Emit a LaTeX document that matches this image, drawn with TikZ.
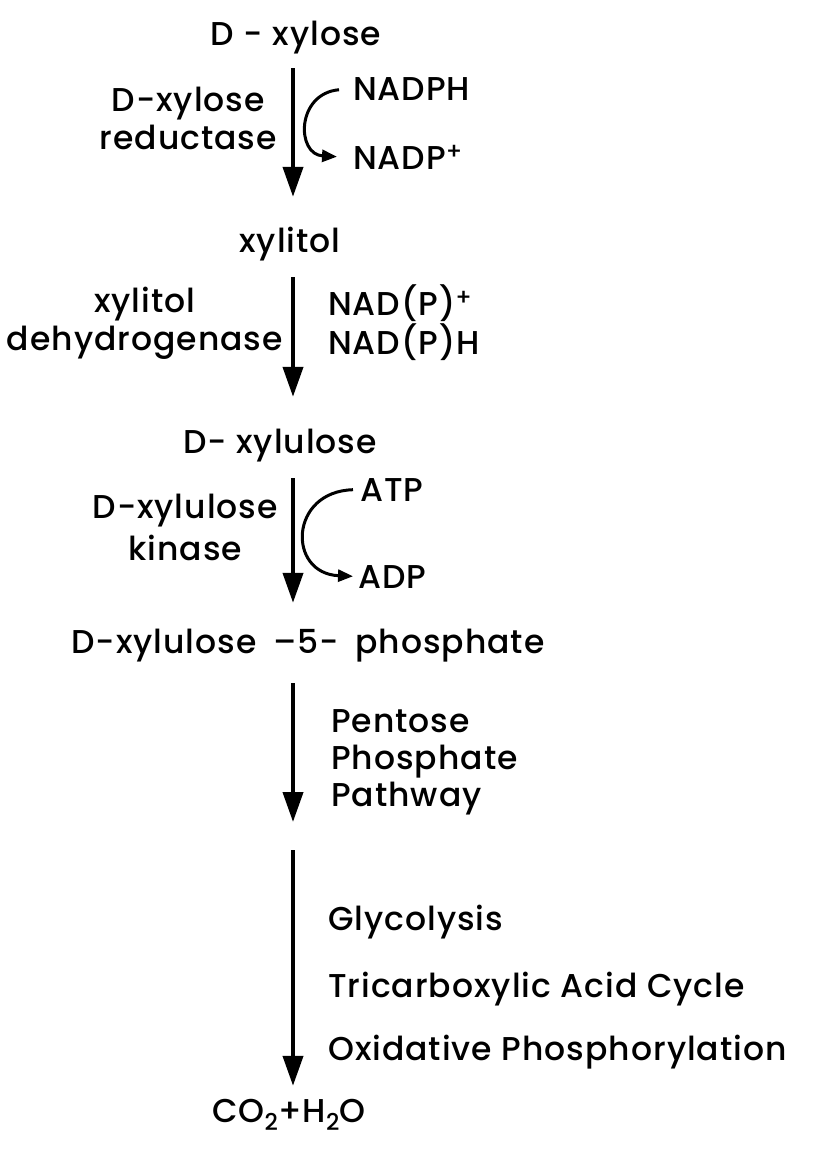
\documentclass[tikz,border=0pt]{standalone}
\usepackage{fontspec}
\setmainfont{Poppins}[UprightFont=* Medium, LetterSpace=3]
\usetikzlibrary{arrows.meta}

\begin{document}
\begin{tikzpicture}[x=1pt, y=-1pt,
  cpd/.style={font=\fontsize{33}{40}\selectfont, inner sep=0pt, anchor=base,
              text height=25pt, text depth=8pt},
  enz/.style={font=\fontsize{33}{38}\selectfont, inner sep=0pt, anchor=east, align=center},
  cof/.style={font=\fontsize{33}{40}\selectfont, inner sep=0pt, anchor=base west,
              text height=25pt, text depth=2pt},
  note/.style={font=\fontsize{33}{37}\selectfont, inner sep=0pt, anchor=base west, align=left},
  arr/.style={-{Triangle[length=30pt, width=20pt]}, line width=4pt},
  carr/.style={-{Triangle[length=15pt, width=12pt]}, line width=3pt},
]
  \useasboundingbox (0,0) rectangle (821,1149);

  % main chain
  \node[cpd] (xyl) at (296,45)   {D - xylose};
  \node[cpd] (xol) at (290,252)  {xylitol};
  \node[cpd] (xul) at (280,453)  {D- xylulose};
  \node[cpd] (x5p) at (308,653)  {D-xylulose\enspace--5-\enspace phosphate};
  \node[cpd] (co2) at (289,1122) {CO\textsubscript{2}+H\textsubscript{2}O};

  \coordinate (ax)   at (293,0);
  \coordinate (mid1) at (293,822);
  \coordinate (mid2) at (293,850);

  % enzymes
  \node[enz] (e1) at (277,118) {D-xylose\\reductase};
  \node[enz] (e2) at (283,323) {xylitol\\dehydrogenase};
  \node[enz] (e3) at (278,527) {D-xylulose\\[4pt]kinase};

  % cofactors
  \node[cof] (nadph) at (353,100) {NADPH};
  \node[cof] (nadp)  at (353,169) {NADP\textsuperscript{+}};
  \node[cof] (nadpp) at (328,315) {NAD(P)\textsuperscript{+}};
  \node[cof] (nadh)  at (328,354) {NAD(P)H};
  \node[cof] (atp)   at (360,501) {ATP};
  \node[cof] (adp)   at (358,588) {ADP};

  % pathways
  \node[note] (ppp) at (331,806)  {Pentose\\Phosphate\\Pathway};
  \node[note] (gly) at (328,930)  {Glycolysis};
  \node[note] (tca) at (328,997)  {Tricarboxylic Acid Cycle};
  \node[note] (oxp) at (328,1060) {Oxidative Phosphorylation};

  \draw[arr, shorten <=15pt, shorten >=30pt] (xyl.south -| ax) -- (xol.north -| ax);
  \draw[arr, shorten <=17pt, shorten >=31pt] (xol.south -| ax) -- (xul.north -| ax);
  \draw[arr, shorten <=17pt, shorten >=25pt] (xul.south -| ax) -- (x5p.north -| ax);
  \draw[arr, shorten <=22pt] (x5p.south -| ax) -- (mid1);
  \draw[arr, shorten >=11pt] (mid2) -- (co2.north -| ax);

  \draw[carr, shorten <=14pt, shorten >=16pt]
    (nadph.west) .. controls +(-57,5) and +(-57,-3) .. (nadp.west);
  \draw[carr, shorten <=7pt, shorten >=5pt]
    (atp.west) .. controls +(-71,2) and +(-71,-3) .. (adp.west);
\end{tikzpicture}
\end{document}
